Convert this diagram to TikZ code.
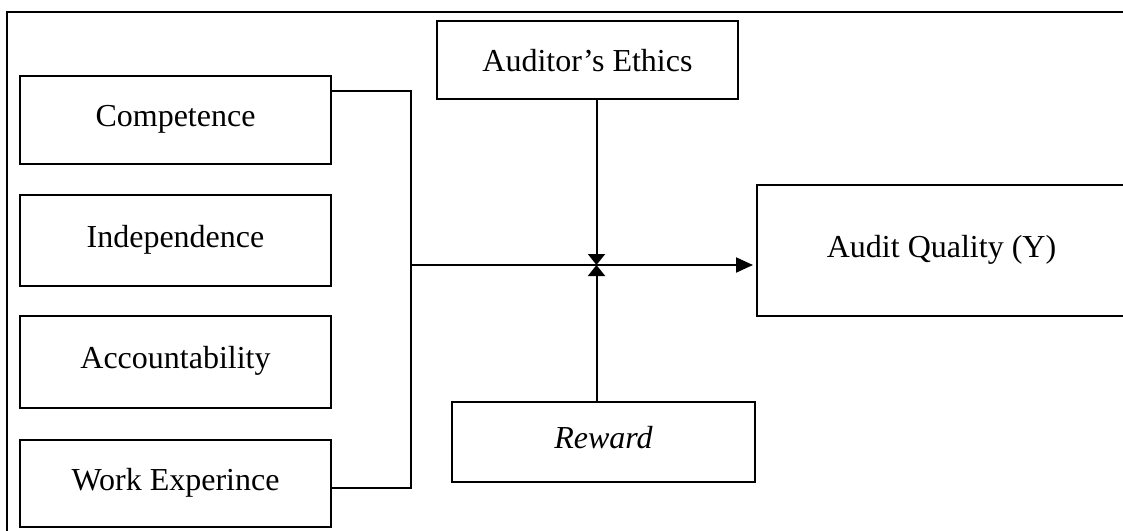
\documentclass[tikz,border=0pt]{standalone}
\usepackage{fontspec}
\setmainfont{Liberation Serif}
\usetikzlibrary{arrows.meta}
\begin{document}
\begin{tikzpicture}[x=1pt,y=-1pt,
  box/.style={draw, line width=2pt, inner sep=0pt, outer sep=0pt,
    font=\fontsize{32}{37}\selectfont, text height=22pt, text depth=9pt, align=center},
  conn/.style={line width=2pt},
  tip/.style={-{Triangle[length=17pt,width=15pt]}},
  bow/.style={-{Triangle[length=11pt,width=17pt]}}
]
\useasboundingbox (0,0) rectangle (1123,530);
\fill[white] (0,0) rectangle (1123,530);
% outer frame (partly outside the picture)
\draw[line width=2pt] (1130,12) -- (7,12) -- (7,540);
% left boxes
\node[box, minimum width=311pt, minimum height=88pt] (comp) at (175.5,120) {Competence};
\node[box, minimum width=311pt, minimum height=91pt] (indep) at (175.5,240.5) {Independence};
\node[box, minimum width=311pt, minimum height=92pt] (acc) at (175.5,362) {Accountability};
\node[box, minimum width=311pt, minimum height=87pt] (work) at (175.5,483.5) {Work Experince};
% moderators
\node[box, text depth=0pt, minimum width=301pt, minimum height=78pt] (ethics) at (587.5,60) {Auditor’s Ethics};
\node[box, minimum width=303pt, minimum height=80pt] (reward) at (603.5,442) {\itshape Reward};
% dependent
\node[box, minimum width=369pt, minimum height=131pt] (quality) at (941.5,250.5) {Audit Quality (Y)};
% junction coordinates
\coordinate (jt) at (410.5,90.5);
\coordinate (jb) at (410.5,488);
\coordinate (jm) at (410.5,265);
\coordinate (x) at (596.5,265);
\coordinate (qtip) at (753,265);
% connectors
\draw[conn] (comp.east |- jt) -- (jt) -- (jb) -- (work.east |- jb);
\draw[conn, tip] (jm) -- (qtip);
\draw[conn, bow] (ethics.south -| x) -- (x);
\draw[conn, bow] (reward.north -| x) -- (x);
\end{tikzpicture}
\end{document}
